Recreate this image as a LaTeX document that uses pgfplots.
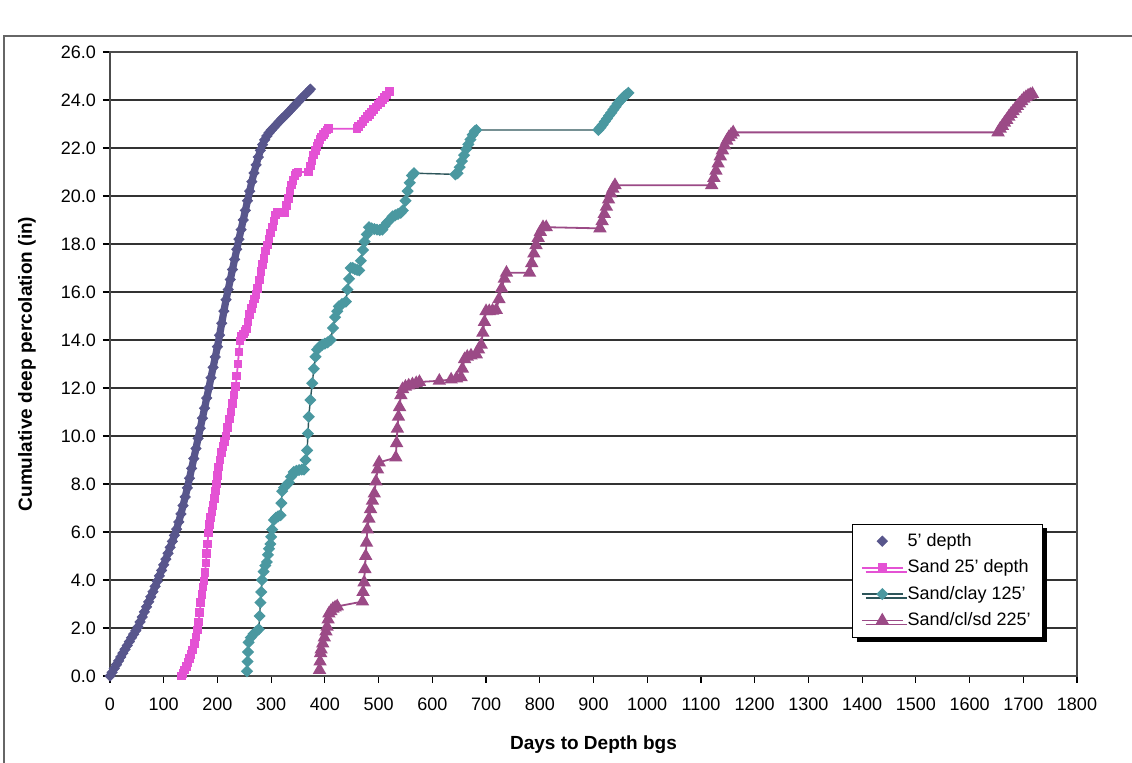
\documentclass[border=0pt]{standalone}
\usepackage{fontspec}
\setmainfont{Liberation Sans}
\usepackage{pgfplots}
\usepackage{pgfplotstable}
\pgfplotsset{compat=1.18}
\usetikzlibrary{shadows}

\definecolor{navyS}{RGB}{88,86,140}
\definecolor{pinkS}{RGB}{228,82,212}
\definecolor{tealS}{RGB}{74,152,160}
\definecolor{tealL}{RGB}{45,85,90}
\definecolor{plumS}{RGB}{155,74,134}

% 5' depth
\pgfplotstableread{
day val
0 0.00
4 0.15
8 0.31
12 0.47
16 0.63
20 0.79
24 0.95
28 1.11
32 1.27
36 1.43
40 1.59
44 1.74
48 1.89
52 2.04
56 2.25
60 2.46
64 2.67
68 2.88
72 3.09
76 3.30
80 3.51
84 3.73
88 3.95
92 4.17
96 4.40
100 4.63
104 4.87
108 5.11
112 5.36
116 5.61
120 5.86
124 6.12
128 6.42
132 6.75
136 7.10
140 7.46
144 7.84
148 8.24
152 8.65
156 9.06
160 9.48
164 9.90
168 10.32
172 10.74
176 11.16
180 11.58
184 12.00
188 12.43
192 12.86
196 13.29
200 13.72
204 14.20
208 14.70
212 15.20
216 15.68
220 16.10
224 16.52
228 16.94
232 17.36
236 17.78
240 18.20
244 18.60
248 19.00
252 19.40
256 19.80
260 20.20
264 20.60
268 20.96
272 21.30
276 21.62
280 21.90
284 22.14
288 22.34
292 22.50
296 22.63
300 22.74
305 22.86
310 22.98
315 23.10
320 23.22
325 23.33
330 23.44
335 23.56
340 23.68
345 23.80
350 23.92
355 24.04
360 24.15
365 24.26
370 24.37
373 24.45
}\depthA

% Sand 25' depth
\pgfplotstableread{
day val
133 0.00
136 0.10
139 0.25
142 0.40
145 0.55
148 0.72
151 0.90
154 1.08
157 1.35
160 1.62
163 1.92
165 2.25
167 2.65
169 3.05
171 3.40
173 3.70
175 3.95
177 4.30
178.5 4.70
180 5.10
181.5 5.50
183 5.95
185 6.30
187.5 6.60
190 6.85
192 7.10
194 7.40
196 7.70
198 8.00
200 8.35
202.5 8.70
205 9.00
207.5 9.30
210 9.55
213 9.78
216 10.00
219 10.35
222 10.70
225 11.00
228 11.35
231 11.70
234 12.05
236 12.50
238 13.00
240 13.50
242 13.95
245 14.15
248 14.25
251 14.35
254 14.45
257 14.75
260 15.05
263 15.30
266 15.50
269 15.70
272 15.90
275 16.15
278 16.50
281 16.85
284 17.15
287 17.40
290 17.70
293 17.95
296 18.20
299 18.45
302 18.70
305 18.95
308 19.20
311 19.30
314 19.30
326 19.30
329 19.60
332 19.90
335 20.20
338 20.45
341 20.65
344 20.85
347 20.95
350 21.00
370 21.00
373 21.25
376 21.45
379 21.70
382 21.90
385 22.05
388 22.20
391 22.35
394 22.45
397 22.55
400 22.65
404 22.75
407 22.80
460 22.80
463 22.90
467 23.00
471 23.10
475 23.20
479 23.30
483 23.40
487 23.50
491 23.60
495 23.70
499 23.80
503 23.90
507 24.00
511 24.10
515 24.20
520 24.35
}\depthB

% Sand/clay 125'
\pgfplotstableread{
day val
255 0.20
256 0.60
257 1.00
258 1.40
262 1.60
267 1.75
272 1.85
277 1.95
278.5 2.50
280 3.06
281.5 3.50
283 4.00
286 4.35
289 4.60
292 4.75
294 5.05
296 5.30
298.5 5.50
300 5.80
302 6.10
305 6.50
309 6.60
313 6.65
317.5 6.70
319 7.20
320.5 7.70
324 7.85
328 7.95
333 8.06
337 8.30
342 8.50
347 8.55
352 8.58
357 8.60
361 8.60
364 9.00
367 9.40
368.5 10.10
370 10.80
373 11.50
376.5 12.20
379.5 12.80
382.5 13.30
385.5 13.60
390 13.72
395 13.80
400 13.85
405 13.90
411 14.00
415 14.50
419 14.95
423 15.20
426 15.40
432 15.50
439 15.60
442 16.10
445 16.55
448 17.00
452 17.00
456 16.95
460 16.92
464 16.90
467 17.30
471 17.75
474 18.10
478 18.40
482 18.70
487 18.65
492 18.62
497 18.60
502 18.58
507 18.60
511 18.75
516 18.90
521 19.00
526 19.15
531 19.20
536 19.25
541 19.30
545 19.40
550 19.80
554 20.20
558 20.55
562 20.85
566 20.95
643 20.90
647 20.95
651 21.20
655 21.45
659 21.70
663 21.95
667 22.15
671 22.35
675 22.55
679 22.70
682 22.75
909 22.75
913 22.85
917 22.97
921 23.10
925 23.22
929 23.35
933 23.47
937 23.60
941 23.72
945 23.85
949 23.95
953 24.05
957 24.15
961 24.22
965 24.30
}\depthC

% Sand/cl/sd 225'
\pgfplotstableread{
day val
390 0.25
391 0.60
392 0.95
393 1.10
396 1.35
399 1.60
402 1.85
404 2.05
406 2.35
407.5 2.60
411 2.70
415 2.80
419 2.85
423 2.90
470 3.10
471 3.50
473 3.90
474.5 4.45
476 5.00
477.5 5.55
479 6.10
482 6.55
485 6.95
488.5 7.30
492 7.60
495 8.10
498 8.60
501 8.90
532 9.10
533.5 9.70
535 10.30
537 10.80
539 11.20
541.5 11.70
544.5 11.95
550 12.05
556 12.10
563 12.15
570 12.20
576 12.25
613 12.30
635 12.35
645 12.40
653.5 12.45
656 12.80
660 13.20
665 13.30
672 13.35
681.7 13.40
686 13.60
691 13.80
694 14.30
697 14.75
700 15.20
706 15.20
712 15.22
719 15.25
724 15.70
729 16.15
734 16.55
738 16.80
781 16.80
785 17.20
789 17.60
793 17.95
797 18.25
801 18.50
806 18.70
812 18.70
912 18.65
916 18.95
920 19.25
924 19.55
928 19.85
932 20.10
936 20.30
940 20.45
1120 20.45
1124 20.75
1128 21.05
1132 21.35
1136 21.65
1140 21.90
1144 22.10
1148 22.30
1152 22.45
1156 22.55
1160 22.65
1653 22.65
1657 22.80
1661 22.92
1665 23.05
1669 23.17
1673 23.30
1677 23.42
1681 23.53
1685 23.64
1689 23.75
1693 23.85
1697 23.95
1701 24.05
1705 24.12
1709 24.18
1713 24.22
1717 24.25
}\depthD

\begin{document}
\begin{tikzpicture}
\useasboundingbox (-55pt,-43.5pt) rectangle (511pt,338pt);
\fill[white] (-55pt,-43.5pt) rectangle (511pt,338pt);
\draw[black!60, line width=0.8pt] (-53pt,-60pt) -- (-53pt,320pt) -- (530pt,320pt);
\begin{axis}[
  at={(0pt,0pt)}, anchor=south west,
  scale only axis, width=483.5pt, height=312pt,
  xmin=0, xmax=1800, ymin=0, ymax=26,
  xtick={0,100,...,1800}, ytick={0,2,...,26},
  scaled ticks=false,
  ymajorgrids, grid style={black!80, line width=0.7pt},
  axis line style={black!70, line width=0.6pt},
  tick align=outside, major tick length=3.5pt,
  tick style={black, line width=0.6pt},
  xtick pos=bottom, ytick pos=left,
  /pgf/number format/assume math mode=true,
  x tick label style={font=\fontsize{9}{10}\selectfont, yshift=-4pt, /pgf/number format/1000 sep={}},
  y tick label style={font=\fontsize{9}{10}\selectfont, /pgf/number format/.cd, fixed, fixed zerofill, precision=1},
  xlabel={\textbf{Days to Depth bgs}},
  ylabel={\textbf{Cumulative deep percolation (in)}},
  label style={font=\fontsize{9.5}{11}\selectfont},
  xlabel style={at={(axis description cs:0.5,0)}, anchor=center, yshift=-34.5pt},
  ylabel style={at={(axis description cs:0,0.5)}, anchor=center, rotate=0, yshift=41.5pt},
  legend style={at={(0.965,0.061)}, anchor=south east, draw=black, fill=white,
    font=\fontsize{9}{11}\selectfont, inner xsep=4pt, inner ysep=2.5pt,
    row sep=1.2pt, cells={anchor=west},
    drop shadow={shadow xshift=2pt, shadow yshift=-2pt, fill=black, opacity=1}},
  legend image code/.code={\draw[mark repeat=2,mark phase=2,#1] plot coordinates {(0cm,0cm) (0.36cm,0cm) (0.72cm,0cm)};},
]
\addplot[navyS, line width=3.6pt, forget plot] table[x=day,y=val] {\depthA};
\addplot[navyS, only marks, mark=square*, mark size=1.8pt, mark options={rotate=45}] table[x=day,y=val] {\depthA};
\addlegendentry{5' depth}
\addplot[pinkS, line width=0.9pt, mark=square*, mark size=1.7pt] table[x=day,y=val] {\depthB};
\addlegendentry{Sand 25' depth}
\addplot[tealL, line width=0.7pt, mark=square*, mark size=1.8pt, mark options={rotate=45, fill=tealS, draw=tealS}] table[x=day,y=val] {\depthC};
\addlegendentry{Sand/clay 125'}
\addplot[plumS, line width=0.9pt, mark=triangle*, mark size=3pt] table[x=day,y=val] {\depthD};
\addlegendentry{Sand/cl/sd 225'}
\end{axis}
\end{tikzpicture}
\end{document}
